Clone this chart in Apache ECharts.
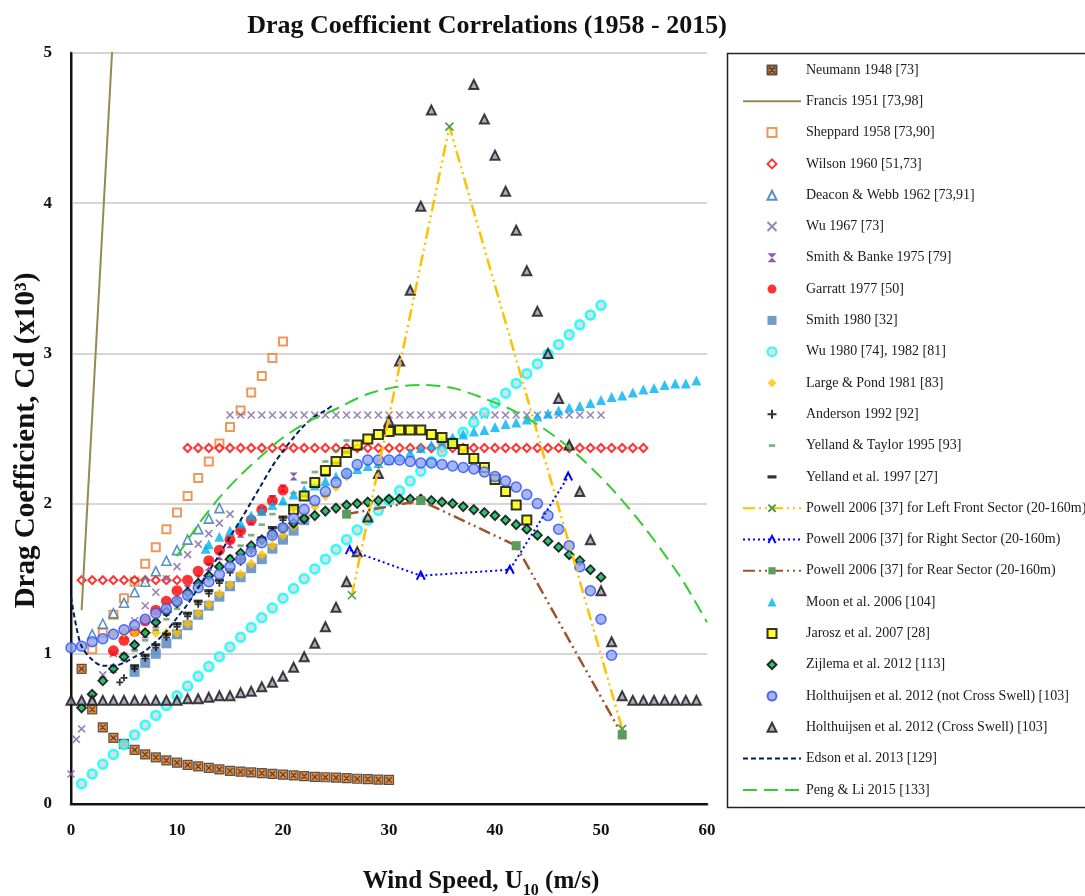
<!DOCTYPE html>
<html>
<head>
<meta charset="utf-8">
<title>Drag Coefficient Correlations</title>
<script src="https://cdn.jsdelivr.net/npm/echarts@6/dist/echarts.min.js"></script>
<style>
  html, body { margin: 0; padding: 0; background: #fff; }
  #chart { width: 1085px; height: 896px; }
</style>
</head>
<body>
<div id="chart"></div>
<script>
// [U10 (m/s), Cd x10^3] pairs
const neumann = [[1,0.90],[2,0.63],[3,0.51],[4,0.44],[5,0.40],[6,0.36],[7,0.33],[8,0.31],[9,0.29],[10,0.275],[11,0.26],[12,0.25],[13,0.24],[14,0.23],[15,0.22],[16,0.215],[17,0.21],[18,0.205],[19,0.20],[20,0.195],[21,0.19],[22,0.185],[23,0.18],[24,0.178],[25,0.175],[26,0.172],[27,0.168],[28,0.165],[29,0.162],[30,0.16]];
const francis = [[1,1.29],[4,5.17]];
const sheppard = [[2,1.03],[3,1.14],[4,1.26],[5,1.37],[6,1.48],[7,1.60],[8,1.71],[9,1.83],[10,1.94],[11,2.05],[12,2.17],[13,2.28],[14,2.40],[15,2.51],[16,2.62],[17,2.74],[18,2.85],[19,2.97],[20,3.08]];
const wilson = [[1,1.49],[2,1.49],[3,1.49],[4,1.49],[5,1.49],[6,1.49],[7,1.49],[8,1.49],[9,1.49],[10,1.49],
  [11,2.37],[12,2.37],[13,2.37],[14,2.37],[15,2.37],[16,2.37],[17,2.37],[18,2.37],[19,2.37],[20,2.37],[21,2.37],[22,2.37],[23,2.37],[24,2.37],[25,2.37],[26,2.37],[27,2.37],[28,2.37],[29,2.37],[30,2.37],[31,2.37],[32,2.37],
  [33,2.37],[34,2.37],[35,2.37],[36,2.37],[37,2.37],[38,2.37],[39,2.37],[40,2.37],[41,2.37],[42,2.37],[43,2.37],[44,2.37],[45,2.37],[46,2.37],[47,2.37],[48,2.37],[49,2.37],[50,2.37],[51,2.37],[52,2.37],[53,2.37],[54,2.37]];
const deaconWebb = [[2,1.13],[3,1.20],[4,1.27],[5,1.34],[6,1.41],[7,1.48],[8,1.55],[9,1.62],[10,1.69],[11,1.76],[12,1.83],[13,1.90],[14,1.97]];
const wu1967 = [[0,0.20],[0.5,0.43],[1,0.50],[2,0.71],[3,0.86],[4,1.00],[5,1.12],[6,1.22],[7,1.32],[8,1.41],[9,1.50],[10,1.58],[11,1.66],[12,1.73],[13,1.80],[14,1.87],[15,1.93],
  [15,2.59],[16,2.59],[17,2.59],[18,2.59],[19,2.59],[20,2.59],[21,2.59],[22,2.59],[23,2.59],[24,2.59],[25,2.59],[26,2.59],[27,2.59],[28,2.59],[29,2.59],[30,2.59],[31,2.59],[32,2.59],
  [33,2.59],[34,2.59],[35,2.59],[36,2.59],[37,2.59],[38,2.59],[39,2.59],[40,2.59],[41,2.59],[42,2.59],[43,2.59],[44,2.59],[45,2.59],[46,2.59],[47,2.59],[48,2.59],[49,2.59],[50,2.59]];
const smithBanke = [[4,0.90],[5,0.98],[6,1.05],[7,1.13],[8,1.20],[9,1.28],[10,1.35],[11,1.43],[12,1.50],[13,1.58],[14,1.65],[15,1.73],[16,1.80],[17,1.88],[18,1.95],[19,2.03],[20,2.10],[21,2.18]];
const garratt = [[4,1.02],[5,1.09],[6,1.15],[7,1.22],[8,1.29],[9,1.35],[10,1.42],[11,1.49],[12,1.55],[13,1.62],[14,1.69],[15,1.76],[16,1.82],[17,1.89],[18,1.96],[19,2.02],[20,2.09]];
const smith1980 = [[6,0.88],[7,0.94],[8,1.00],[9,1.07],[10,1.13],[11,1.19],[12,1.26],[13,1.32],[14,1.38],[15,1.45],[16,1.51],[17,1.57],[18,1.63],[19,1.70],[20,1.76],[21,1.82],[22,1.89]];
const wu1980 = [[1,0.135],[2,0.20],[3,0.265],[4,0.33],[5,0.395],[6,0.46],[7,0.525],[8,0.59],[9,0.655],[10,0.72],[11,0.785],[12,0.85],[13,0.915],[14,0.98],[15,1.045],[16,1.11],[17,1.175],
  [18,1.24],[19,1.305],[20,1.37],[21,1.435],[22,1.50],[23,1.565],[24,1.63],[25,1.695],[26,1.76],[27,1.825],[28,1.89],[29,1.955],[30,2.02],[31,2.085],[32,2.15],[33,2.215],[34,2.28],
  [35,2.345],[36,2.41],[37,2.475],[38,2.54],[39,2.605],[40,2.67],[41,2.735],[42,2.80],[43,2.865],[44,2.93],[45,2.995],[46,3.06],[47,3.125],[48,3.19],[49,3.255],[50,3.32]];
const largePond = [[4,1.14],[5,1.14],[6,1.14],[7,1.14],[8,1.14],[9,1.14],[10,1.14],[11,1.20],[12,1.27],[13,1.33],[14,1.40],[15,1.46],[16,1.53],[17,1.60],[18,1.66],[19,1.72],[20,1.79],[21,1.85],[22,1.92],[23,1.98],[24,2.05],[25,2.11],[26,2.18]];
const anderson = [[4.6,0.81],[5,0.84],[6,0.90],[7,0.97],[8,1.04],[9,1.11],[10,1.18],[11,1.25],[12,1.33],[13,1.40],[14,1.47],[15,1.54],[16,1.61],[17,1.68],[18,1.75],[19,1.82],[20,1.89],[21,1.96]];
const yellandTaylor = [[6,1.02],[7,1.09],[8,1.16],[9,1.23],[10,1.30],[11,1.37],[12,1.44],[13,1.51],[14,1.58],[15,1.65],[16,1.72],[17,1.79],[18,1.86],[19,1.93],[20,2.00],[21,2.07],[22,2.14],[23,2.21],[24,2.28],[25,2.35],[26,2.42]];
const yelland1997 = [[6,0.92],[7,0.99],[8,1.06],[9,1.13],[10,1.20],[11,1.27],[12,1.35],[13,1.42],[14,1.49],[15,1.56],[16,1.63],[17,1.70],[18,1.77],[19,1.84],[20,1.91],[21,1.98],[22,2.05],[23,2.12],[24,2.19],[25,2.27],[26,2.34]];
const powellLeft = [[26.5,1.39],[35.7,4.51],[52,0.50]];
const powellRight = [[26.3,1.69],[33,1.52],[41.4,1.56],[46.9,2.18]];
const powellRear = [[26,1.93],[33,2.02],[42,1.72],[52,0.46]];
const moon = [[12.7,1.70],[13,1.73],[14,1.78],[15,1.82],[16,1.87],[17,1.92],[18,1.95],[19,1.99],[20,2.02],[21,2.06],[22,2.09],[23,2.12],[24,2.15],[25,2.18],[26,2.21],[27,2.23],[28,2.25],
  [29,2.27],[30,2.29],[31,2.31],[32,2.34],[33,2.37],[34,2.39],[35,2.42],[36,2.44],[37,2.46],[38,2.48],[39,2.49],[40,2.51],[41,2.53],[42,2.54],[43,2.56],[44,2.58],[45,2.60],
  [46,2.62],[47,2.64],[48,2.65],[49,2.67],[50,2.69],[51,2.71],[52,2.72],[53,2.74],[54,2.76],[55,2.77],[56,2.79],[57,2.80],[58,2.80],[59,2.82]];
const jarosz = [[21,1.96],[22,2.05],[23,2.14],[24,2.22],[25,2.28],[26,2.34],[27,2.39],[28,2.43],[29,2.46],[30,2.48],[31,2.49],[32,2.49],[33,2.49],[34,2.46],[35,2.44],[36,2.40],[37,2.36],[38,2.30],[39,2.24],[40,2.16],[41,2.08],[42,1.99],[43,1.89]];
const zijlema = [[1,0.64],[2,0.73],[3,0.82],[4,0.90],[5,0.98],[6,1.06],[7,1.14],[8,1.21],[9,1.28],[10,1.34],[11,1.41],[12,1.47],[13,1.52],[14,1.58],[15,1.63],[16,1.67],[17,1.72],
  [18,1.76],[19,1.80],[20,1.84],[21,1.87],[22,1.90],[23,1.92],[24,1.95],[25,1.97],[26,1.99],[27,2.00],[28,2.01],[29,2.02],[30,2.03],[31,2.03],[32,2.03],[33,2.03],[34,2.02],
  [35,2.01],[36,2.00],[37,1.98],[38,1.96],[39,1.94],[40,1.92],[41,1.89],[42,1.86],[43,1.83],[44,1.79],[45,1.75],[46,1.71],[47,1.66],[48,1.62],[49,1.56],[50,1.51]];
const holtNotCross = [[0,1.04],[1,1.05],[2,1.08],[3,1.10],[4,1.13],[5,1.16],[6,1.19],[7,1.23],[8,1.27],[9,1.30],[10,1.35],[11,1.39],[12,1.44],[13,1.48],[14,1.53],[15,1.58],[16,1.63],[17,1.68],
  [18,1.74],[19,1.79],[20,1.84],[21,1.90],[22,1.96],[23,2.02],[24,2.08],[25,2.14],[26,2.20],[27,2.26],[28,2.29],[29,2.29],[30,2.29],[31,2.29],[32,2.28],[33,2.27],[34,2.27],[35,2.26],
  [36,2.25],[37,2.24],[38,2.23],[39,2.21],[40,2.18],[41,2.15],[42,2.11],[43,2.06],[44,2.00],[45,1.92],[46,1.83],[47,1.72],[48,1.58],[49,1.42],[50,1.23],[51,0.99]];
const holtCross = [[0,0.69],[1,0.69],[2,0.69],[3,0.69],[4,0.69],[5,0.69],[6,0.69],[7,0.69],[8,0.69],[9,0.69],[10,0.69],[11,0.70],[12,0.70],[13,0.71],[14,0.72],[15,0.72],[16,0.74],[17,0.75],
  [18,0.78],[19,0.81],[20,0.85],[21,0.91],[22,0.98],[23,1.07],[24,1.18],[25,1.31],[26,1.48],[27,1.68],[28,1.91],[29,2.20],[30,2.55],[31,2.95],[32,3.42],[33,3.98],[34,4.62],
  [38,4.79],[39,4.56],[40,4.32],[41,4.08],[42,3.82],[43,3.55],[44,3.28],[45,3.00],[46,2.70],[47,2.39],[48,2.08],[49,1.76],[50,1.42],[51,1.08],[52,0.72],
  [53,0.69],[54,0.69],[55,0.69],[56,0.69],[57,0.69],[58,0.69],[59,0.69]];
const edson = [[0,1.38],[0.5,1.18],[1,1.05],[2,0.96],[3,0.92],[4,0.92],[5,0.94],[6,0.98],[7,1.02],[8,1.08],[9,1.15],[10,1.24],[11,1.33],[12,1.44],[13,1.55],[14,1.66],[15,1.78],
  [16,1.89],[17,2.01],[18,2.13],[19,2.25],[20,2.35],[21,2.44],[22,2.52],[23,2.58],[24,2.62],[24.6,2.65]];
const pengLi = [[10,1.65],[12,1.86],[14,2.04],[16,2.19],[18,2.32],[20,2.44],[22.5,2.55],[25,2.63],[28,2.73],[31,2.78],[33,2.79],[36,2.77],[38.6,2.71],[41.7,2.62],[45,2.48],[48,2.31],[51,2.10],[54,1.85],[57.5,1.51],[60,1.21]];

const xTicks = [0, 60, 10];   // min, max, step
const yTicks = [0, 5, 1];

const serif = 'Liberation Serif';
// path symbols keep their shape in the legend box
const SQUARE = 'path://M0,0H10V10H0Z';
const DIAMOND = 'path://M5,0L10,5L5,10L0,5Z';
const TRIANGLE = 'path://M5,0L10,10H0Z';
const X_MARK = 'path://M0,0L10,10M10,0L0,10';
const PLUS = 'path://M5,0V10M0,5H10';
const HOURGLASS = 'path://M0,0H10L0,10H10Z';
const CARET = 'path://M0,10L5,0L10,10';
const X_BOX = 'path://M0,0H10V10H0Z M2,2L8,8 M8,2L2,8';
const DASH_S = 'path://M0,0M10,10M1.5,3.5H8.5V6.5H1.5Z';
const DASH_L = 'path://M0,0M10,10M0,3.2H10V6.8H0Z';

function dots(name, data, symbol, size, itemStyle) {
  return { name, type: 'scatter', data, symbol, symbolSize: size, itemStyle };
}

function curve(name, data, color, width, dash, extra) {
  return Object.assign({
    name, type: 'line', data, symbol: 'none',
    lineStyle: { color, width, type: dash },
    itemStyle: { color }
  }, extra);
}

const series = [
  dots('Neumann 1948 [73]', neumann, X_BOX, 9, { color: '#E46C0A', borderColor: '#333', borderWidth: 1.2 }),
  curve('Francis 1951 [73,98]', francis, '#948A54', 2, 'solid'),
  dots('Sheppard 1958 [73,90]', sheppard, SQUARE, 8, { color: '#fff', borderColor: '#ED7D31', borderWidth: 2 }),
  dots('Wilson 1960 [51,73]', wilson, DIAMOND, 8, { color: '#fff', borderColor: '#FF0000', borderWidth: 2 }),
  dots('Deacon & Webb 1962 [73,91]', deaconWebb, TRIANGLE, 9, { color: '#fff', borderColor: '#2E75B6', borderWidth: 1.6 }),
  dots('Wu 1967 [73]', wu1967, X_MARK, 7, { color: 'rgba(0,0,0,0)', borderColor: '#8064A2', borderWidth: 1.6 }),
  dots('Smith & Banke 1975 [79]', smithBanke, HOURGLASS, 8, { color: '#7030A0' }),
  dots('Garratt 1977 [50]', garratt, 'circle', 11, { color: '#FF0000' }),
  dots('Smith 1980 [32]', smith1980, SQUARE, 10, { color: '#4F81BD' }),
  dots('Wu 1980 [74], 1982 [81]', wu1980, 'circle', 9, { color: '#C9D9D9', borderColor: '#00FFFF', borderWidth: 2.5 }),
  dots('Large & Pond 1981 [83]', largePond, DIAMOND, 10, { color: '#FFC000' }),
  dots('Anderson 1992 [92]', anderson, PLUS, 7, { color: 'rgba(0,0,0,0)', borderColor: '#000', borderWidth: 1.8 }),
  dots('Yelland & Taylor 1995 [93]', yellandTaylor, DASH_S, 9, { color: '#5E9E5E' }),
  dots('Yelland et al. 1997 [27]', yelland1997, DASH_L, 9, { color: '#000' }),
  curve('Powell 2006 [37] for Left Front Sector (20-160m)', powellLeft, '#FFC000', 2.5, [12, 4, 2, 4, 2, 4], {
    symbol: X_MARK, symbolSize: 8,
    itemStyle: { color: 'rgba(0,0,0,0)', borderColor: '#4E9A4E', borderWidth: 1.6 }
  }),
  curve('Powell 2006 [37] for Right Sector (20-160m)', powellRight, '#0000FF', 2, [2, 3], {
    symbol: CARET, symbolSize: 8,
    itemStyle: { color: 'rgba(0,0,0,0)', borderColor: '#0000FF', borderWidth: 2 }
  }),
  curve('Powell 2006 [37] for Rear Sector (20-160m)', powellRear, '#A0522D', 2.5, [12, 4, 2, 4, 2, 4], {
    symbol: SQUARE, symbolSize: 9,
    itemStyle: { color: '#5B9B5B' }
  }),
  dots('Moon et al. 2006 [104]', moon, TRIANGLE, 10, { color: '#00B0F0' }),
  dots('Jarosz et al. 2007 [28]', jarosz, SQUARE, 9, { color: '#FFFF00', borderColor: '#000', borderWidth: 2 }),
  dots('Zijlema et al. 2012 [113]', zijlema, DIAMOND, 9, { color: '#00B050', borderColor: '#000', borderWidth: 1.8 }),
  dots('Holthuijsen et al. 2012 (not Cross Swell) [103]', holtNotCross, 'circle', 10, { color: '#8EA5EE', borderColor: '#2A4BFF', borderWidth: 1.5 }),
  dots('Holthuijsen et al. 2012 (Cross Swell) [103]', holtCross, TRIANGLE, 9, { color: '#9C95B0', borderColor: '#111', borderWidth: 2 }),
  curve('Edson et al. 2013 [129]', edson, '#002060', 2, [5, 3], { smooth: 0.3 }),
  curve('Peng & Li 2015 [133]', pengLi, '#33CC33', 2, [14, 7], { smooth: 0.3 })
];

const lineOnly = ['Francis 1951 [73,98]', 'Edson et al. 2013 [129]', 'Peng & Li 2015 [133]'];
const legendData = series.map(s => lineOnly.includes(s.name) ? { name: s.name, itemStyle: { opacity: 0 } } : { name: s.name });

const chart = echarts.init(document.getElementById('chart'));
chart.setOption({
  animation: false,
  backgroundColor: '#fff',
  title: {
    text: 'Drag Coefficient Correlations (1958 - 2015)',
    left: 482, top: 8, textAlign: 'center',
    textStyle: { fontFamily: serif, fontWeight: 'bold', fontSize: 26, color: '#111' }
  },
  grid: { left: 71, top: 53, right: 378, bottom: 92, outerBoundsMode: 'none' },
  legend: {
    data: legendData,
    orient: 'vertical',
    left: 737, top: 58,
    itemWidth: 58, itemHeight: 9, itemGap: 17.3,
    symbolKeepAspect: true,
    selectedMode: false,
    textStyle: { fontFamily: serif, fontSize: 14, lineHeight: 14, color: '#1a1a1a' }
  },
  graphic: [{
    type: 'rect', left: 725, top: 51,
    shape: { width: 400, height: 754 },
    style: { fill: 'none', stroke: '#222', lineWidth: 1.5 }
  }],
  xAxis: [{
    type: 'value', min: xTicks[0], max: xTicks[1], interval: xTicks[2],
    name: '{a|Wind Speed, U}{s|10}{a| (m/s)}',
    nameLocation: 'middle', nameGap: 61,
    nameTextStyle: {
      padding: [0, 0, 0, 184],
      rich: {
        a: { fontFamily: serif, fontWeight: 'bold', fontSize: 25, color: '#111', lineHeight: 34 },
        s: { fontFamily: serif, fontWeight: 'bold', fontSize: 16, color: '#111', lineHeight: 34, verticalAlign: 'bottom' }
      }
    },
    axisLine: { lineStyle: { color: '#8c8c8c', width: 3 } },
    axisTick: { show: false },
    axisLabel: { margin: 18, fontFamily: serif, fontWeight: 'bold', fontSize: 17, color: '#111' },
    splitLine: { show: false }
  }, {
    type: 'value', position: 'top', min: xTicks[0], max: xTicks[1], interval: xTicks[2],
    axisLine: { lineStyle: { color: '#111', width: 2 } },
    axisTick: { show: false }, axisLabel: { show: false }, splitLine: { show: false }
  }],
  yAxis: [{
    type: 'value', min: yTicks[0], max: yTicks[1], interval: yTicks[2],
    name: 'Drag Coefficient, Cd (x10³)',
    nameLocation: 'middle', nameGap: 30, nameMoveOverlap: false,
    nameTextStyle: { fontFamily: serif, fontWeight: 'bold', fontSize: 29, color: '#111', padding: [0, 24, 0, 0] },
    axisLine: { show: true, lineStyle: { color: '#8c8c8c', width: 3 } },
    axisTick: { show: false },
    axisLabel: { margin: 19, fontFamily: serif, fontWeight: 'bold', fontSize: 17, color: '#111' },
    splitLine: { lineStyle: { color: '#c8c8c8', width: 1.5 } }
  }, {
    type: 'value', position: 'right', min: yTicks[0], max: yTicks[1], interval: yTicks[2],
    axisLine: { show: true, lineStyle: { color: '#111', width: 2 } },
    axisTick: { show: false }, axisLabel: { show: false }, splitLine: { show: false }
  }],
  series
});
</script>
</body>
</html>
